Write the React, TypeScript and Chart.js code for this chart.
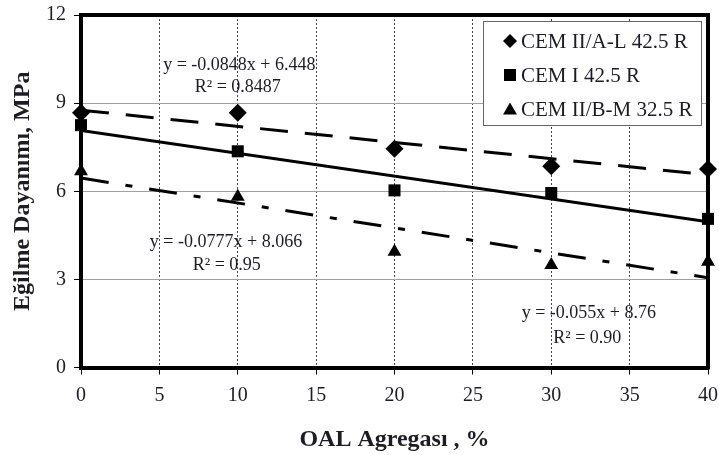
import React, { useEffect, useRef } from 'react';
import { Chart, registerables } from 'chart.js';

Chart.register(...registerables);

// ---- data ----
const xValues = [0, 10, 20, 30, 40];
const seriesNames = ['CEM II/A-L 42.5 R', 'CEM I 42.5 R', 'CEM II/B-M 32.5 R'];
const cemIIAL = [8.67, 8.67, 7.45, 6.85, 6.76];
const cemI = [8.25, 7.36, 6.03, 5.94, 5.06];
const cemIIBM = [6.68, 5.81, 3.94, 3.49, 3.6];

const trendX = [0, 40];
const trendIIAL = [8.76, 6.56];
const trendI = [8.066, 4.958];
const trendIIBM = [6.448, 3.056];

const xTickValues = [0, 5, 10, 15, 20, 25, 30, 35, 40];
const yTickValues = [0, 3, 6, 9, 12];

const equationTexts = [
  'y = -0.0848x + 6.448',
  'R² = 0.8487',
  'y = -0.0777x + 8.066',
  'R² = 0.95',
  'y = -0.055x + 8.76',
  'R² = 0.90',
];
const equationX = [10.1, 10.0, 9.25, 9.3, 32.4, 32.3];
const equationY = [10.29, 9.54, 4.28, 3.47, 1.86, 1.01];

const xTitle = 'OAL Agregası , %';
const yTitle = 'Eğilme Dayanımı, MPa';

const SERIF = '"Liberation Serif", "Times New Roman", serif';
const TEXT = '#1c1c24';

function drawMarker(ctx: CanvasRenderingContext2D, style: string, x: number, y: number) {
  ctx.beginPath();
  if (style === 'rectRot') {
    const s = 7;
    ctx.moveTo(x, y - s);
    ctx.lineTo(x + s, y);
    ctx.lineTo(x, y + s);
    ctx.lineTo(x - s, y);
  } else if (style === 'rect') {
    const s = 6;
    ctx.rect(x - s, y - s, 2 * s, 2 * s);
  } else {
    const r = 8;
    for (let i = 0; i < 3; i++) {
      const a = (i * 2 * Math.PI) / 3;
      const px = x + Math.sin(a) * r;
      const py = y - Math.cos(a) * r + 1.5;
      if (i === 0) ctx.moveTo(px, py);
      else ctx.lineTo(px, py);
    }
  }
  ctx.closePath();
  ctx.fill();
}

const overlayPlugin = {
  id: 'overlay',
  beforeDatasetsDraw(chart: any) {
    const { ctx, chartArea } = chart;
    const { left, right, top, bottom } = chartArea;
    ctx.save();
    ctx.strokeStyle = '#000';
    ctx.lineWidth = 4;
    ctx.beginPath();
    ctx.moveTo(left - 2, top);
    ctx.lineTo(right, top);
    ctx.lineTo(right, bottom + 2);
    ctx.stroke();
    ctx.restore();
  },
  afterDraw(chart: any) {
    const { ctx, chartArea, scales } = chart;
    const { right, top } = chartArea;
    ctx.save();
    // equations
    ctx.fillStyle = TEXT;
    ctx.font = `18px ${SERIF}`;
    ctx.textAlign = 'center';
    ctx.textBaseline = 'middle';
    equationTexts.forEach((t, i) => {
      const px = scales.x.getPixelForValue(equationX[i]);
      const py = scales.y.getPixelForValue(equationY[i]);
      ctx.fillText(t, px, py);
    });

    // legend
    const bx = right - 225;
    const by = top + 6;
    const bw = 218;
    const bh = 104;
    ctx.fillStyle = '#fff';
    ctx.fillRect(bx, by, bw, bh);
    ctx.strokeStyle = '#666';
    ctx.lineWidth = 1;
    ctx.strokeRect(bx + 0.5, by + 0.5, bw, bh);
    const styles = ['rectRot', 'rect', 'triangle'];
    ctx.font = `21px ${SERIF}`;
    ctx.textAlign = 'left';
    ctx.textBaseline = 'middle';
    chart.data.datasets.slice(0, 3).forEach((ds: any, i: number) => {
      const ry = by + 20 + i * 34;
      ctx.fillStyle = '#000';
      drawMarker(ctx, styles[i], bx + 27, ry);
      ctx.fillStyle = TEXT;
      ctx.fillText(ds.label, bx + 38, ry + 1);
    });
    ctx.restore();
  },
};

export default function App() {
  const canvasRef = useRef<HTMLCanvasElement | null>(null);

  useEffect(() => {
    if (!canvasRef.current) return;
    const pts = (ys: number[]) => xValues.map((x, i) => ({ x, y: ys[i] }));
    const tpts = (ys: number[]) => trendX.map((x, i) => ({ x, y: ys[i] }));
    const pointDs = (label: string, ys: number[], style: string, radius: number) => ({
      type: 'scatter' as const,
      label,
      data: pts(ys),
      showLine: false,
      pointStyle: style,
      pointRadius: radius,
      pointBackgroundColor: '#000',
      pointBorderColor: '#000',
      pointBorderWidth: 0,
      clip: false,
      order: 0,
    });
    const lineDs = (ys: number[], dash: number[]) => ({
      type: 'line' as const,
      label: '',
      data: tpts(ys),
      borderColor: '#000',
      borderWidth: 3,
      borderDash: dash,
      pointRadius: 0,
      fill: false,
      tension: 0,
      order: 1,
    });

    const chart = new Chart(canvasRef.current, {
      type: 'scatter',
      data: {
        datasets: [
          pointDs(seriesNames[0], cemIIAL, 'rectRot', 9),
          pointDs(seriesNames[1], cemI, 'rect', 8.5),
          pointDs(seriesNames[2], cemIIBM, 'triangle', 8),
          lineDs(trendIIAL, [28, 17]),
          lineDs(trendI, []),
          lineDs(trendIIBM, [28, 17, 7, 17]),
        ] as any,
      },
      options: {
        animation: false,
        responsive: false,
        layout: { padding: { top: 15, right: 11, left: 0, bottom: 0 } },
        plugins: {
          legend: { display: false },
          tooltip: { enabled: false },
        },
        scales: {
          x: {
            type: 'linear',
            min: 0,
            max: 40,
            afterBuildTicks: (scale: any) => {
              scale.ticks = xTickValues.map((v) => ({ value: v }));
            },
            afterFit: (scale: any) => {
              scale.height = 87.5;
              scale.paddingLeft = 0;
              scale.paddingRight = 0;
            },
            grid: {
              color: '#444',
              lineWidth: 1,
              tickColor: '#000',
              tickLength: 7,
              tickBorderDash: [],
            },
            border: { display: true, color: '#000', width: 4, dash: [2, 2] },
            ticks: {
              color: TEXT,
              font: { family: SERIF, size: 20 },
              padding: 9,
              maxRotation: 0,
            },
            title: {
              display: true,
              text: xTitle,
              color: TEXT,
              font: { family: SERIF, size: 24, weight: 'bold' },
              padding: { top: 0, bottom: 1 },
            },
          },
          y: {
            type: 'linear',
            min: 0,
            max: 12,
            afterBuildTicks: (scale: any) => {
              scale.ticks = yTickValues.map((v) => ({ value: v }));
            },
            afterFit: (scale: any) => {
              scale.width = 81;
              scale.paddingTop = 0;
              scale.paddingBottom = 0;
            },
            grid: {
              color: '#a0a0a0',
              lineWidth: 1,
              tickColor: '#000',
              tickLength: 7,
            },
            border: { display: true, color: '#000', width: 4 },
            ticks: {
              color: TEXT,
              font: { family: SERIF, size: 20 },
              padding: 8,
            },
            title: {
              display: true,
              text: yTitle,
              color: TEXT,
              font: { family: SERIF, size: 24, weight: 'bold' },
              padding: { top: 8, bottom: 0 },
            },
          },
        },
      },
      plugins: [overlayPlugin],
    } as any);
    return () => chart.destroy();
  }, []);

  return (
    <div style={{ position: 'fixed', left: 0, top: 0, width: 719, height: 455, background: '#fff' }}>
      <canvas ref={canvasRef} width={719} height={455} />
    </div>
  );
}
